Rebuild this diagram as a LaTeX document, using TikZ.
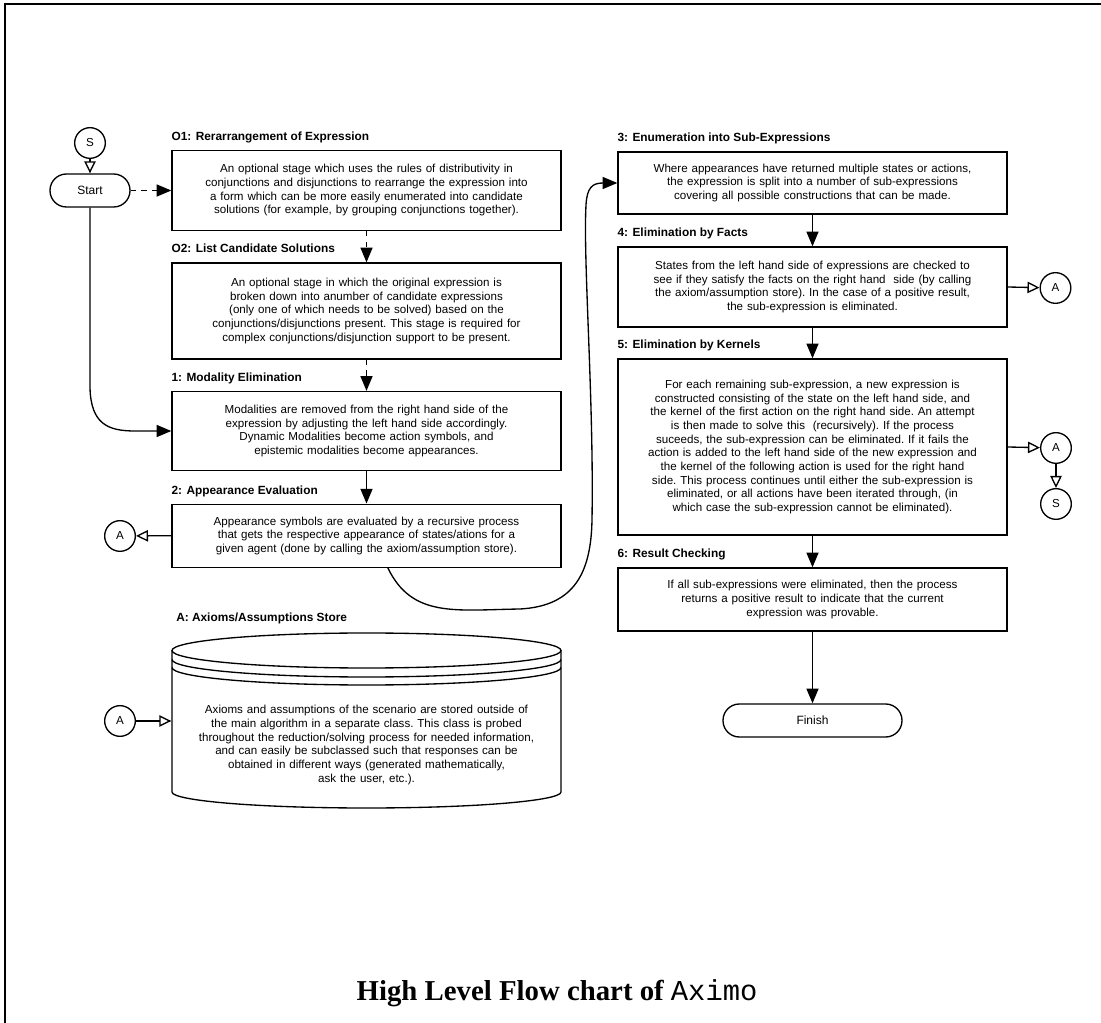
\documentclass[tikz,border=0pt]{standalone}
\usepackage{fontspec}
\setmainfont{Liberation Sans}
\newfontfamily\capserif{Liberation Serif}
\newfontfamily\capmono{Liberation Mono}
\usetikzlibrary{arrows.meta,positioning}

\tikzset{
  stage/.style={draw, line width=1pt, text width=291.75pt, inner sep=0pt,
    align=center, font=\fontsize{8.7pt}{10.25pt}\selectfont\frenchspacing},
  stagetitle/.style={inner sep=0pt, text height=6.5pt, text depth=1.9pt,
    font=\fontsize{8.9pt}{10pt}\selectfont\bfseries},
  term/.style={draw, line width=1pt, rounded corners=12.3pt, minimum height=24.75pt,
    inner sep=0pt, font=\fontsize{9pt}{10pt}\selectfont},
  conn/.style={draw, circle, line width=1pt, minimum size=23pt, inner sep=0pt,
    font=\fontsize{8.7pt}{10pt}\selectfont},
  flow/.style={line width=1pt, -{Triangle[length=11pt,width=9pt]}},
  optflow/.style={flow, dash pattern=on 4pt off 4pt},
  ref/.style={line width=1pt, -{Triangle[open,length=9pt,width=8.5pt,fill=white]}}
}

\begin{document}
\begin{tikzpicture}[x=0.75pt,y=-0.75pt]
\useasboundingbox (0,0) rectangle (1101,1023);
\draw[line width=1.1pt] (5,1023) -- (5,4) -- (1101,4);

% left column
\node[conn] (s1) at (90,143) {S};
\node[term, minimum width=60pt] (start) at (90,190.5) {Start};

\node[stage, minimum height=60pt] (o1) at (366.5,190.5) {An optional stage which uses the rules of distributivity in\\
conjunctions and disjunctions to rearrange the expression into\\
a form which can be more easily enumerated into candidate\\
solutions (for example, by grouping conjunctions together).};
\node[stage, minimum height=72pt] (o2) at (366.5,311) {An optional stage in which the original expression is\\
broken down into anumber of candidate expressions\\
(only one of which needs to be solved) based on the\\
conjunctions/disjunctions present. This stage is required for\\
complex conjunctions/disjunction support to be present.};
\node[stage, minimum height=59.25pt] (modal) at (366.5,431) {Modalities are removed from the right hand side of the\\
expression by adjusting the left hand side accordingly.\\
Dynamic Modalities become action symbols, and\\
epistemic modalities become appearances.};
\node[stage, minimum height=47.25pt] (appear) at (366.5,535.7) {Appearance symbols are evaluated by a recursive process\\
that gets the respective appearance of states/ations for a\\
given agent (done by calling the axiom/assumption store).};

\node[conn] (a1) at (120,536) {A};

% axiom store
\draw[line width=1pt] (366.5,650.5) ellipse [x radius=194.5, y radius=17.5];
\draw[line width=1pt] (172,659.5) arc[start angle=180, end angle=0, x radius=194.5, y radius=17.5];
\draw[line width=1pt] (172,667.5) arc[start angle=180, end angle=0, x radius=194.5, y radius=17.5];
\draw[line width=1pt] (172,650.5) -- (172,792) arc[start angle=180, end angle=0, x radius=194.5, y radius=16] -- (561,650.5);
\node[stage, draw=none] (store) at (366.5,745) {Axioms and assumptions of the scenario are stored outside of\\
the main algorithm in a separate class. This class is probed\\
throughout the reduction/solving process for needed information,\\
and can easily be subclassed such that responses can be\\
obtained in different ways (generated mathematically,\\
ask the user, etc.).};
\node[conn] (a2) at (120,721) {A};

\node[stagetitle, above right=5pt and 0pt of o1.north west] (o1t) {O1: Rerarrangement of Expression};
\node[stagetitle, above right=5pt and 0pt of o2.north west] (o2t) {O2: List Candidate Solutions};
\node[stagetitle, above right=5pt and 0pt of modal.north west] (modalt) {1: Modality Elimination};
\node[stagetitle, above right=5pt and 0pt of appear.north west] (appeart) {2: Appearance Evaluation};
\node[stagetitle, anchor=base west] (storet) at (176,622) {A: Axioms/Assumptions Store};

% right column
\node[stage, minimum height=46.5pt] (enum) at (812.5,183) {Where appearances have returned multiple states or actions,\\
the expression is split into a number of sub-expressions\\
covering all possible constructions that can be made.};
\node[stage, minimum height=60pt] (facts) at (812.5,287) {States from the left hand side of expressions are checked to\\
see if they satisfy the facts on the right hand\ \ side (by calling\\
the axiom/assumption store). In the case of a positive result,\\
the sub-expression is eliminated.};
\node[stage, minimum height=132pt] (kernels) at (812.5,447) {For each remaining sub-expression, a new expression is\\
constructed consisting of the state on the left hand side, and\\
the kernel of the first action on the right hand side. An attempt\\
is then made to solve this\ \ (recursively). If the process\\
suceeds, the sub-expression can be eliminated. If it fails the\\
action is added to the left hand side of the new expression and\\
the kernel of the following action is used for the right hand\\
side. This process continues until either the sub-expression is\\
eliminated, or all actions have been iterated through, (in\\
which case the sub-expression cannot be eliminated).};
\node[stage, minimum height=47.25pt] (result) at (812.5,599.5) {If all sub-expressions were eliminated, then the process\\
returns a positive result to indicate that the current\\
expression was provable.};
\node[term, minimum width=134.25pt] (finish) at (812.5,720.5) {Finish};

\node[conn] (a3) at (1055.5,288) {A};
\node[conn] (a4) at (1056,448) {A};
\node[conn] (s2) at (1056,504) {S};

\node[stagetitle, above right=5pt and 0pt of enum.north west] (enumt) {3: Enumeration into Sub-Expressions};
\node[stagetitle, above right=5pt and 0pt of facts.north west] (factst) {4: Elimination by Facts};
\node[stagetitle, above right=5pt and 0pt of kernels.north west] (kernelst) {5: Elimination by Kernels};
\node[stagetitle, above right=5pt and 0pt of result.north west] (resultt) {6: Result Checking};

% connectors
\draw[ref] (s1) -- (start);
\draw[optflow] (start.east) -- (o1.west);
\draw[optflow] (o1.south) -- (o2.north);
\draw[optflow] (o2.south) -- (modal.north);
\draw[flow] (start.south) -- (90,388) .. controls (91,424) and (108,431) .. (135,431) -- (modal.west);
\draw[flow] (modal.south) -- (appear.north);
\draw[ref] (appear.west) -- (a1);
\draw[ref] (a2) -- (a2 -| store.west);
\draw[flow] ([xshift=16pt]appear.south) .. controls (412,618) and (455,610) .. (520,609)
  .. controls (575,606) and (591,572) .. (592,520) .. controls (594,400) and (583,260) .. (586,205)
  .. controls (587,188) and (592,183) .. (enum.west);
\draw[flow] (enum.south) -- (facts.north);
\draw[flow] (facts.south) -- (kernels.north);
\draw[flow] (kernels.south) -- (result.north);
\draw[flow] (result.south) -- (finish.north);
\draw[ref] (facts.east) -- (a3);
\draw[ref] (kernels.east) -- (a4);
\draw[ref] (a4) -- (s2);

\node[anchor=base, font=\capserif\bfseries\fontsize{21.6pt}{25pt}\selectfont] (caption) at (557,1000)
  {High Level Flow chart of {\capmono\mdseries Aximo}};
\end{tikzpicture}
\end{document}
